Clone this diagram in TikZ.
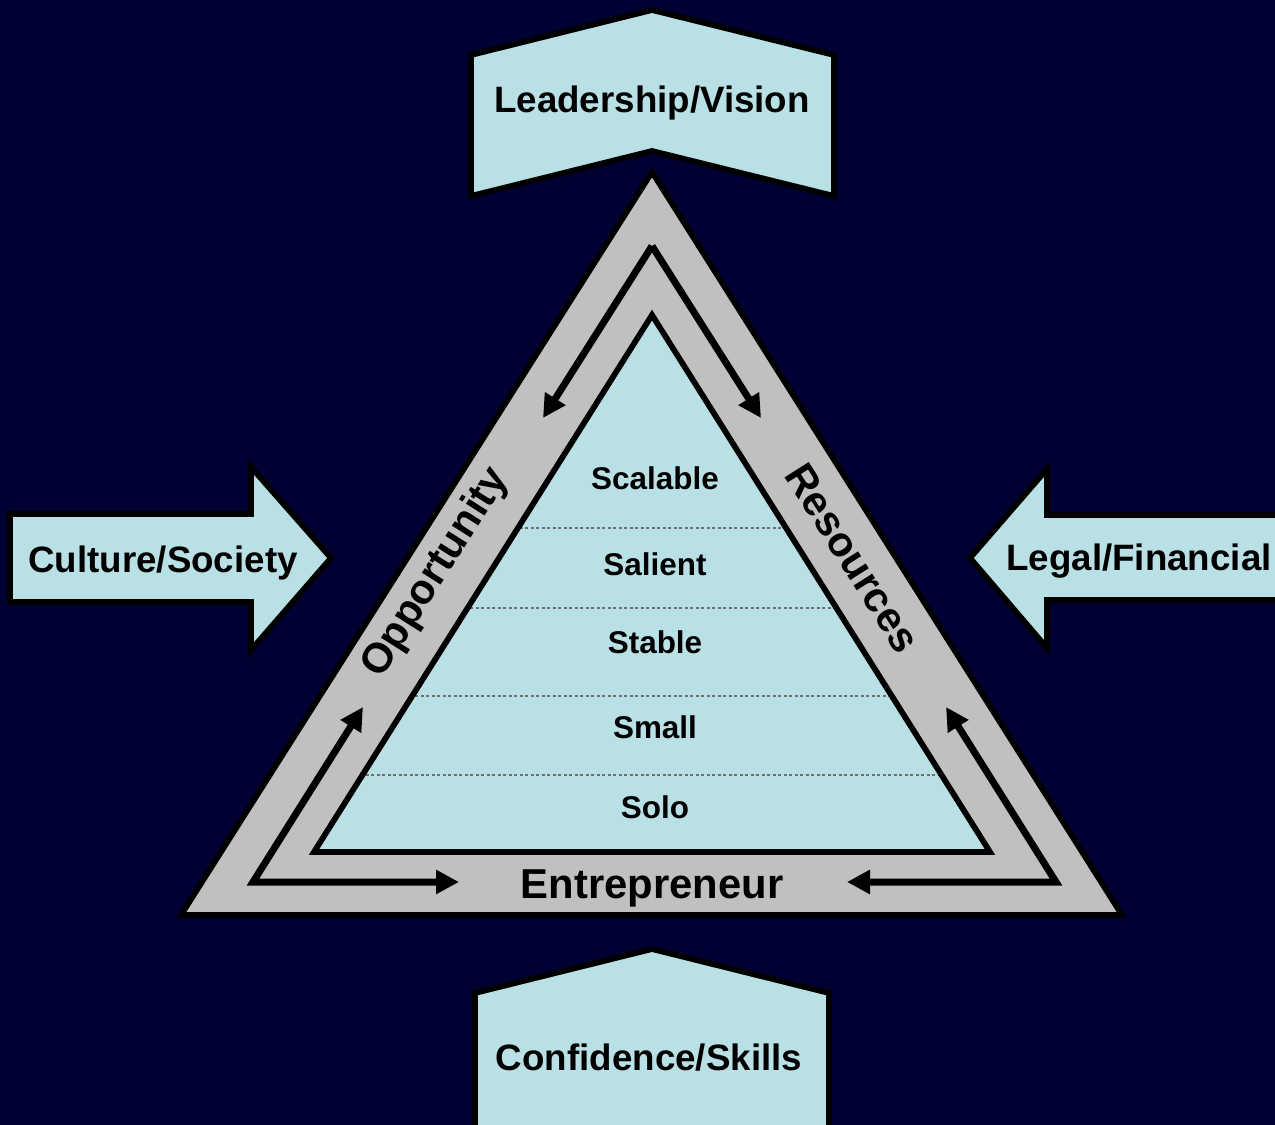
\documentclass[tikz,border=0pt]{standalone}
\usepackage{fontspec}
\setmainfont{Liberation Sans}
\usetikzlibrary{arrows.meta}
\definecolor{bg}{RGB}{0,0,51}
\definecolor{pale}{RGB}{185,224,228}
\definecolor{band}{RGB}{192,192,192}
\definecolor{dotc}{RGB}{110,110,110}
\begin{document}
\begin{tikzpicture}[x=0.02cm,y=-0.02cm,
  >={Triangle[length=0.46cm,width=0.46cm]},
  box/.style={fill=pale,draw=black,line width=0.115cm,line join=miter},
  flow/.style={draw=black,line width=0.14cm,line join=miter},
  biglab/.style={font=\bfseries\fontsize{20.9}{24}\selectfont,text=black,anchor=base,inner sep=0pt},
  sidelab/.style={font=\bfseries\fontsize{23.8}{28}\selectfont,text=black,inner sep=0pt},
  levlab/.style={font=\bfseries\fontsize{17.9}{21}\selectfont,text=black,anchor=base,inner sep=0pt},
  sepline/.style={draw=dotc,line width=0.055cm,dash pattern=on 0.055cm off 0.055cm}]
\useasboundingbox (0,0) rectangle (1275,1125);
\fill[bg] (0,0) rectangle (1275,1125);
\clip (0,0) rectangle (1275,1125);
% outer band triangle
\draw[line width=0.115cm,fill=band,line join=miter] (652,172) -- (181,915) -- (1122,915) -- cycle;
% inner pyramid
\begin{scope}
  \clip (652,315) -- (314,852) -- (990,852) -- cycle;
  \fill[pale] (0,0) rectangle (1275,1125);
  \draw[sepline] (300,528) -- (1000,528);
  \draw[sepline] (300,608) -- (1000,608);
  \draw[sepline] (300,696) -- (1000,696);
  \draw[sepline] (300,775) -- (1000,775);
\end{scope}
\draw[line width=0.115cm,line join=miter] (652,315) -- (314,852) -- (990,852) -- cycle;
% flow arrows
\coordinate (apx) at (652,246);
\coordinate (tl) at (543,418);
\coordinate (tr) at (761,418);
\coordinate (blc) at (253,882);
\coordinate (blu) at (363,707);
\coordinate (blr) at (459,882);
\coordinate (brc) at (1056,882);
\coordinate (bru) at (946,707);
\coordinate (brl) at (847,882);
\draw[flow,->] (apx) -- (tl);
\draw[flow,->] (apx) -- (tr);
\draw[flow,<->] (blu) -- (blc) -- (blr);
\draw[flow,<->] (bru) -- (brc) -- (brl);
% outside boxes
\draw[box] (652,10) -- (834,55) -- (834,196) -- (652,151) -- (471,196) -- (471,55) -- cycle;
\draw[box] (652,949) -- (829,993) -- (829,1140) -- (475,1140) -- (475,993) -- cycle;
\draw[box] (10,514) -- (251,514) -- (251,467) -- (331,558) -- (251,650) -- (251,602) -- (10,602) -- cycle;
\draw[box] (1290,515) -- (1047,515) -- (1047,469) -- (970,558) -- (1047,648) -- (1047,600) -- (1290,600) -- cycle;
% labels
\node[biglab] (lead) at (652,113) {Leadership/Vision};
\node[biglab] (cult) at (163,572) {Culture/Society};
\node[biglab] (legal) at (1139,570) {Legal/Financial};
\node[biglab] (conf) at (649,1070) {Confidence/Skills};
\node[sidelab,anchor=base] (ent) at (652,898) {Entrepreneur};
\node[sidelab,rotate=57.6] (opp) at (436,573) {Opportunity};
\node[sidelab,rotate=-57.6] (res) at (853,558) {Resources};
\node[levlab] (l1) at (655,489) {Scalable};
\node[levlab] (l2) at (655,575) {Salient};
\node[levlab] (l3) at (655,653) {Stable};
\node[levlab] (l4) at (655,738) {Small};
\node[levlab] (l5) at (655,818) {Solo};
\end{tikzpicture}
\end{document}
